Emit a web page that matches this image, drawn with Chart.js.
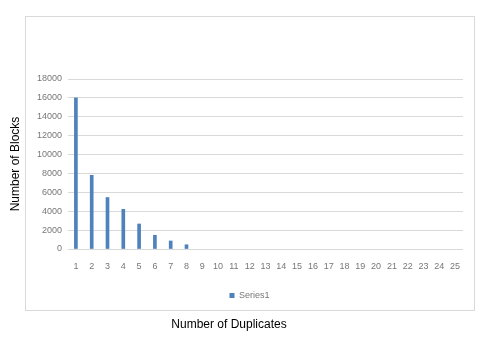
<!DOCTYPE html>
<html>
<head>
<meta charset="utf-8">
<script src="https://cdn.jsdelivr.net/npm/chart.js@4"></script>
<style>
  body { margin: 0; background: #fff; }
  canvas { display: block; }
</style>
</head>
<body>
<canvas id="myChart" width="484" height="338"></canvas>
<script>
// Datos (null = barra sin altura visible)
var duplicates = ['1', '2', '3', '4', '5', '6', '7', '8', '9', '10', '11', '12', '13',
                  '14', '15', '16', '17', '18', '19', '20', '21', '22', '23', '24', '25'];
var series1 = [16000, 7800, 5450, 4200, 2650, 1450, 850, 450, null, null, null, null, null,
               null, null, null, null, null, null, null, null, null, null, null, null];
var yTicks = [0, 2000, 4000, 6000, 8000, 10000, 12000, 14000, 16000, 18000];

// marco exterior + titulo del eje x (debajo de la leyenda)
var frame = {
    id: 'frame',
    beforeDraw: function (c) {
        var ctx = c.ctx;
        ctx.save();
        ctx.strokeStyle = '#d9d9d9';
        ctx.lineWidth = 1;
        ctx.strokeRect(25.5, 16.5, 449, 294);
        ctx.restore();
    },
    afterDraw: function (c) {
        var ctx = c.ctx;
        ctx.save();
        ctx.font = '12px "Liberation Sans", Arial, sans-serif';
        ctx.fillStyle = '#000';
        ctx.textAlign = 'center';
        ctx.textBaseline = 'middle';
        ctx.fillText('Number of Duplicates', 229, 325);
        ctx.restore();
    }
};

var chart = document.getElementById('myChart').getContext('2d');
var myChart = new Chart(chart, {
    type: 'bar',
    data: {
        labels: duplicates,
        datasets: [{
            label: 'Series1',
            data: series1,
            backgroundColor: '#4f81bd',
            barThickness: 3
        }]
    },
    options: {
        responsive: false,
        animation: false,
        layout: { padding: { left: 25, right: 10, top: 79, bottom: 28 } },
        plugins: {
            legend: {
                position: 'bottom',
                labels: {
                    boxWidth: 5,
                    boxHeight: 5,
                    padding: 12,
                    color: '#777',
                    font: { family: 'Liberation Sans', size: 9 }
                }
            },
            tooltip: { enabled: false }
        },
        scales: {
            x: {
                grid: { display: false, drawTicks: false },
                border: { display: false },
                ticks: {
                    color: '#777',
                    padding: 12,
                    maxRotation: 0,
                    autoSkip: false,
                    font: { family: 'Liberation Sans', size: 9 }
                },
                afterFit: function (s) { s.height = 30; }
            },
            y: {
                min: 0,
                max: 18000,
                afterBuildTicks: function (s) {
                    s.ticks = yTicks.map(function (v) { return { value: v }; });
                },
                grid: { color: '#d9d9d9', drawTicks: false },
                border: { display: false },
                ticks: {
                    color: '#777',
                    padding: 6,
                    font: { family: 'Liberation Sans', size: 9 },
                    callback: function (v) { return String(v); }
                },
                title: {
                    display: true,
                    text: 'Number of Blocks',
                    color: '#000',
                    padding: { top: -17, bottom: 0 },
                    font: { family: 'Liberation Sans', size: 12 }
                },
                afterFit: function (s) { s.width = 43; }
            },
            y2: {
                position: 'right',
                grid: { display: false, drawTicks: false },
                border: { display: false },
                ticks: { display: false },
                afterFit: function (s) { s.width = 11; }
            }
        }
    },
    plugins: [frame]
});
</script>
</body>
</html>
